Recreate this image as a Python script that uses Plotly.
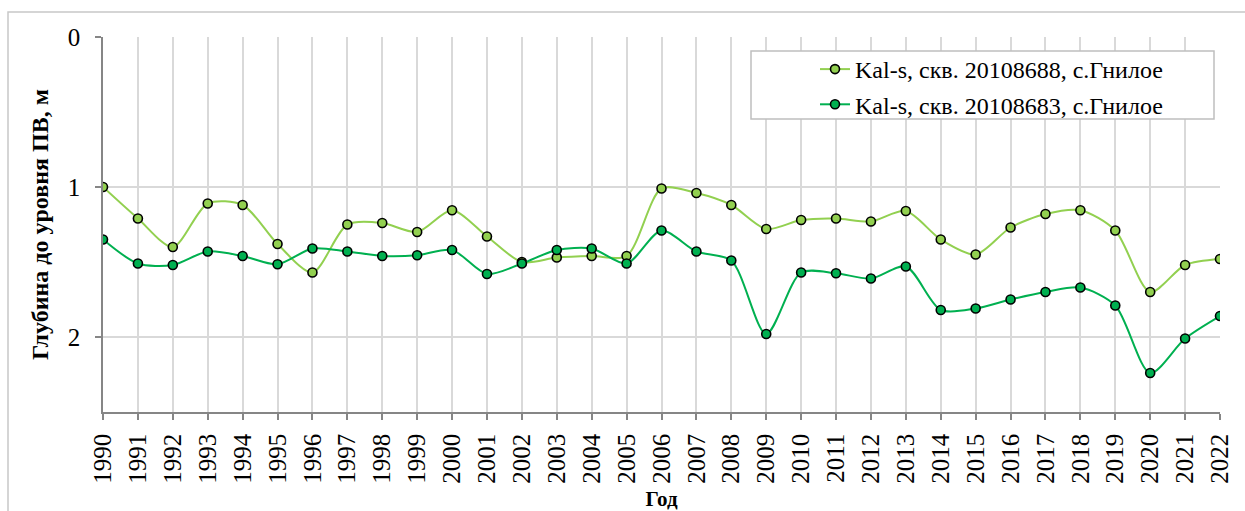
import plotly.graph_objects as go

years = list(range(1990, 2023))

# Depth to groundwater level, m
well_20108688 = [1.00, 1.21, 1.40, 1.11, 1.12, 1.38, 1.57, 1.25, 1.24, 1.30,
                 1.155, 1.33, 1.50, 1.47, 1.46, 1.46, 1.01, 1.04, 1.12, 1.28,
                 1.22, 1.21, 1.23, 1.16, 1.35, 1.45, 1.27, 1.18, 1.155, 1.29,
                 1.70, 1.52, 1.48]
well_20108683 = [1.35, 1.51, 1.52, 1.43, 1.46, 1.515, 1.41, 1.43, 1.46, 1.455,
                 1.42, 1.58, 1.51, 1.42, 1.41, 1.51, 1.29, 1.43, 1.49, 1.98,
                 1.57, 1.575, 1.61, 1.53, 1.82, 1.81, 1.75, 1.70, 1.67, 1.79,
                 2.24, 2.01, 1.86]

names = ["Kal-s, скв. 20108688, с.Гнилое", "Kal-s, скв. 20108683, с.Гнилое"]
colors = ["#92D050", "#00B050"]

FONT = "Liberation Serif"

fig = go.Figure()
for i, (name, vals, col) in enumerate(zip(names, [well_20108688, well_20108683], colors)):
    fig.add_trace(go.Scatter(
        x=years, y=vals, name=name, mode="lines+markers",
        line=dict(color=col, width=2, shape="spline", smoothing=0.8),
        marker=dict(color=col, size=9, line=dict(color="black", width=1.6)),
        legendgroup=f"g{i}",
    ))

fig.update_layout(
    width=1245, height=511,
    margin=dict(l=103, r=25, t=37, b=99),
    paper_bgcolor="white", plot_bgcolor="white",
    font=dict(family=FONT, color="black"),
    showlegend=True,
    legend=dict(
        x=(815 - 103) / 1117, y=1 - (47 - 37) / 375,
        xanchor="left", yanchor="top",
        bgcolor="rgba(0,0,0,0)", borderwidth=0,
        font=dict(family=FONT, size=24, color="black"),
        tracegroupgap=1,
    ),
    xaxis=dict(
        range=[1990, 2022], tickmode="array", tickvals=years,
        ticktext=[str(y) for y in years], tickangle=-90,
        tickfont=dict(family=FONT, size=25),
        showgrid=True, gridcolor="#d9d9d9", gridwidth=1.5,
        showline=True, linecolor="#868686", linewidth=1.5,
        ticks="outside", ticklen=6, tickcolor="#868686", tickwidth=1.5,
        ticklabelstandoff=4, automargin=False,
        title=dict(text="<b>Год</b>", font=dict(family=FONT, size=21), standoff=11),
        zeroline=False,
    ),
    yaxis=dict(
        range=[2.5, 0], tickvals=[0, 1, 2], ticktext=["0", "1", "2"],
        tickfont=dict(family=FONT, size=25),
        showgrid=True, gridcolor="#d9d9d9", gridwidth=1.5,
        showline=True, linecolor="#868686", linewidth=1.5,
        ticks="outside", ticklen=6, tickcolor="#868686", tickwidth=1.5,
        ticklabelstandoff=10, automargin=False,
        title=dict(text="<b>Глубина до уровня ПВ, м</b>", font=dict(family=FONT, size=24), standoff=12),
        zeroline=False,
    ),
    shapes=[
        # legend frame
        dict(type="rect", xref="paper", yref="paper", layer="above",
             x0=(751 - 103) / 1117, x1=(1214 - 103) / 1117,
             y0=1 - (119 - 37) / 375, y1=1 - (51 - 37) / 375,
             line=dict(color="#bfbfbf", width=1.5), fillcolor="white"),
        # chart border
        dict(type="rect", xref="paper", yref="paper", layer="below",
             x0=(8 - 103) / 1117, x1=1.2,
             y0=-0.6, y1=1 + (37 - 12) / 375,
             line=dict(color="#c8c8c8", width=1.5), fillcolor="rgba(0,0,0,0)"),
    ],
)

fig.write_html("out.html")
